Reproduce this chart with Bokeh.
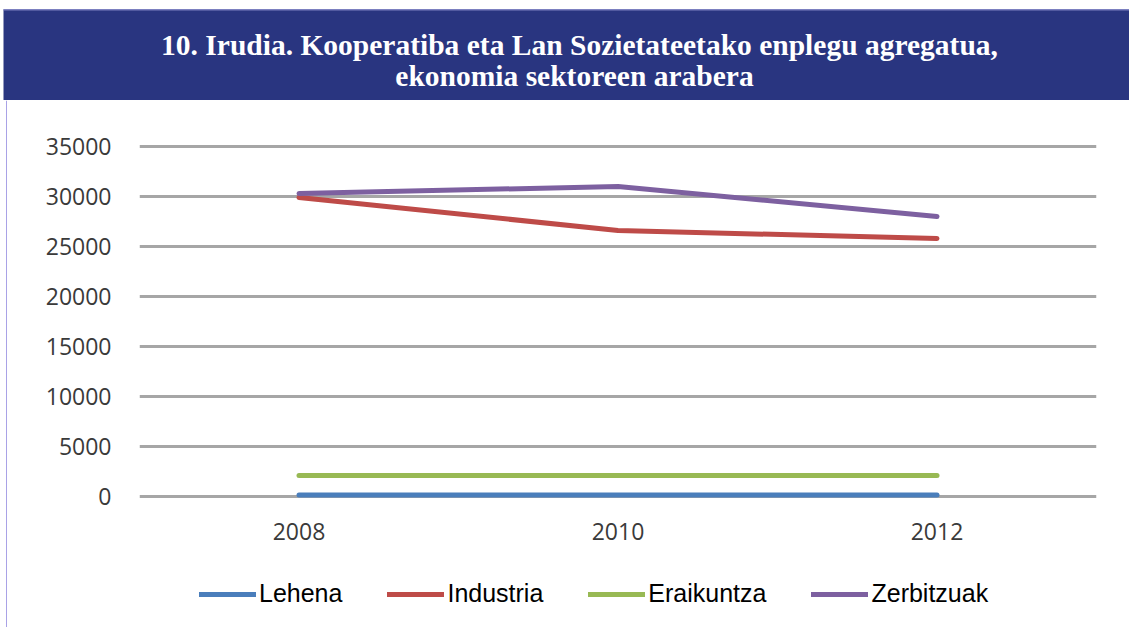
from bokeh.plotting import figure
from bokeh.models import Range1d, FixedTicker, Legend, LegendItem, ColumnDataSource, BoxAnnotation, Label
from bokeh.layouts import column, row
from bokeh.embed import file_html
from bokeh.resources import INLINE

# ---- data ----
years = [2008, 2010, 2012]
lehena = [150, 150, 150]
industria = [29900, 26600, 25800]
eraikuntza = [2100, 2100, 2100]
zerbitzuak = [30300, 31000, 28000]
series_names = ["Lehena", "Industria", "Eraikuntza", "Zerbitzuak"]
y_ticks = [0, 5000, 10000, 15000, 20000, 25000, 30000, 35000]
title_lines = ["10. Irudia. Kooperatiba eta Lan Sozietateetako enplegu agregatua,",
               "ekonomia sektoreen arabera"]

colors = ["#4A7EBB", "#BE4B48", "#98B954", "#7D60A0"]
W = 1129
NAVY = "#293580"
EDGE = "#A9A2E6"


def bare(width, height):
    f = figure(width=width, height=height, output_backend="svg", toolbar_location=None,
               x_range=Range1d(0, width), y_range=Range1d(0, height), min_border=0,
               x_axis_location=None, y_axis_location=None)
    f.grid.visible = False
    f.outline_line_color = None
    return f


# ---- title band ----
band = bare(W, 100)
band.add_layout(BoxAnnotation(left=3, right=W, bottom=0, top=91, fill_color=NAVY,
                              fill_alpha=1, line_color=None))
band.add_layout(BoxAnnotation(left=3, right=W, bottom=90, top=91.5, fill_color="#7C80C0",
                              fill_alpha=1, line_color=None))
for txt, tx, ty in zip(title_lines, [579, 574], [56, 25]):
    band.add_layout(Label(x=tx, y=ty, text=txt,
                          text_font="Liberation Serif", text_font_style="bold",
                          text_font_size="29.5px", text_color="white",
                          text_align="center", text_baseline="middle"))

# ---- left edge strip ----
strip = bare(7, 527)
strip.add_layout(BoxAnnotation(left=5.5, right=7, bottom=0, top=527, fill_color=EDGE,
                               fill_alpha=1, line_color=None))

# ---- chart ----
CW = W - 7
p = figure(width=CW, height=460, output_backend="svg", toolbar_location=None,
           x_range=Range1d(2007.0, 2013.0), y_range=Range1d(-1500, 36000),
           min_border_left=132, min_border_right=33, min_border_top=36,
           min_border_bottom=49)
p.outline_line_color = None
p.xgrid.visible = False
p.ygrid.grid_line_color = "#A6A6A6"
p.ygrid.grid_line_width = 3
p.ygrid.ticker = FixedTicker(ticks=y_ticks)

p.yaxis.ticker = FixedTicker(ticks=y_ticks)
p.xaxis.ticker = FixedTicker(ticks=years)
for ax in (p.xaxis[0], p.yaxis[0]):
    ax.axis_line_color = None
    ax.major_tick_line_color = None
    ax.minor_tick_line_color = None
    ax.major_tick_in = 0
    ax.major_tick_out = 0
    ax.minor_tick_out = 0
    ax.major_label_text_font = "Open Sans"
    ax.major_label_text_font_size = "23px"
    ax.major_label_text_color = "#3A3A3A"
p.yaxis.major_label_standoff = 28
p.xaxis.major_label_standoff = 11

src = ColumnDataSource(dict(x=years, lehena=lehena, industria=industria,
                            eraikuntza=eraikuntza, zerbitzuak=zerbitzuak))
for key, c in zip(["lehena", "industria", "eraikuntza", "zerbitzuak"], colors):
    p.line("x", key, source=src, line_color=c, line_width=5, line_cap="round",
           line_join="round")

# ---- legend ----
leg = bare(CW, 67)
swatches = []
for c in colors:
    swatches.append(leg.line(x=[-10, -9], y=[-10, -9], line_color=c, line_width=5,
                             line_cap="round"))
legend = Legend(items=[LegendItem(label=n, renderers=[r]) for n, r in zip(series_names, swatches)],
                orientation="horizontal", location=(60, 19),
                label_text_font="Liberation Sans", label_text_font_size="25px",
                label_text_color="black", glyph_width=57, label_standoff=3,
                spacing=45, border_line_color=None, padding=4, margin=0,
                background_fill_alpha=0)
leg.add_layout(legend, "center")

layout = column(band, row(strip, column(p, leg, spacing=0), spacing=0), spacing=0)
open("out.html", "w").write(file_html(layout, INLINE))
